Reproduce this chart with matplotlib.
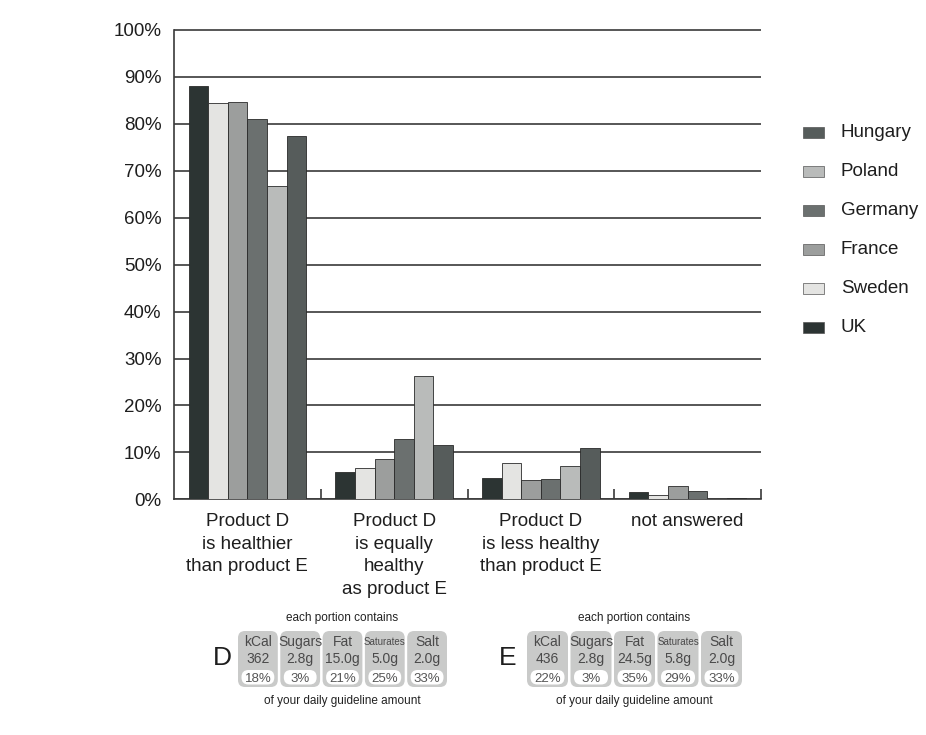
import matplotlib
matplotlib.use("Agg")
import matplotlib.pyplot as plt
from matplotlib.patches import FancyBboxPatch, Rectangle
import numpy as np

plt.rcParams['font.family'] = ['Liberation Sans', 'DejaVu Sans']

# ---------------- data ----------------
categories = ["Product D\nis healthier\nthan product E",
              "Product D\nis equally\nhealthy\nas product E",
              "Product D\nis less healthy\nthan product E",
              "not answered"]

# bar order inside each group (left to right)
bar_order = ["UK", "Sweden", "France", "Germany", "Poland", "Hungary"]
legend_order = ["Hungary", "Poland", "Germany", "France", "Sweden", "UK"]

uk = [88.1, 5.8, 4.6, 1.6]
sweden = [84.4, 6.7, 7.8, 1.0]
france = [84.6, 8.6, 4.2, 2.9]
germany = [81.1, 12.8, 4.4, 1.8]
poland = [66.7, 26.2, 7.2, 0.0]
hungary = [77.4, 11.5, 10.9, 0.3]
series = {"UK": uk, "Sweden": sweden, "France": france,
          "Germany": germany, "Poland": poland, "Hungary": hungary}

colors = {"UK": "#2c3433", "Sweden": "#e4e4e2", "France": "#9c9e9d",
          "Germany": "#6b706f", "Poland": "#b9bbba", "Hungary": "#565c5b"}

yticks = list(range(0, 101, 10))
ytick_labels = [f"{v}%" for v in yticks]

nutr_names = ["kCal", "Sugars", "Fat", "Saturates", "Salt"]
d_values = ["362", "2.8g", "15.0g", "5.0g", "2.0g"]
d_pcts = ["18%", "3%", "21%", "25%", "33%"]
e_values = ["436", "2.8g", "24.5g", "5.8g", "2.0g"]
e_pcts = ["22%", "3%", "35%", "29%", "33%"]

# ---------------- figure ----------------
W, H = 926, 735
fig = plt.figure(figsize=(W / 100, H / 100), dpi=100)
fig.patch.set_facecolor("white")

y0_px, y100_px = 499.3, 30.0
x0_px, x1_px = 174.0, 761.0
ymax = 101.0
h_px = (y0_px - y100_px) * ymax / 100.0
ax = fig.add_axes([x0_px / W, 1 - y0_px / H, (x1_px - x0_px) / W, h_px / H])

n = len(bar_order)
group_w = 0.8
bw = group_w / n
x = np.arange(len(categories))
for i, name in enumerate(bar_order):
    ax.bar(x - group_w / 2 + bw * (i + 0.5), series[name], bw,
           color=colors[name], edgecolor="#2a2a2a", linewidth=0.6, zorder=3)

ax.set_xlim(-0.5, len(categories) - 0.5)
ax.set_ylim(0, ymax)
ax.set_yticks(yticks)
ax.set_yticklabels(ytick_labels, fontsize=13.5, color="#1e1e1e")
ax.set_xticks(x)
ax.set_xticklabels(categories, fontsize=13.5, color="#1e1e1e", linespacing=1.42)
ax.set_xticks(np.arange(len(categories)) + 0.5, minor=True)
ax.tick_params(axis="x", which="major", length=0, pad=10)
ax.tick_params(axis="x", which="minor", direction="in", length=7.5,
               width=1.2, color="#3a3a3a")
ax.tick_params(axis="y", length=0, pad=9)
ax.yaxis.grid(True, color="#3a3a3a", linewidth=1.2, zorder=0)
ax.set_axisbelow(True)
for s in ["top", "right"]:
    ax.spines[s].set_visible(False)
for s in ["left", "bottom"]:
    ax.spines[s].set_color("#3a3a3a")
    ax.spines[s].set_linewidth(1.2)
ax.spines["left"].set_bounds(0, 100)

# ---------------- overlay in pixel coordinates ----------------
ov = fig.add_axes([0, 0, 1, 1])
ov.set_xlim(0, W)
ov.set_ylim(H, 0)
ov.axis("off")
ov.patch.set_visible(False)

# legend
leg_y0, leg_dy = 132, 39
for k, name in enumerate(legend_order):
    yy = leg_y0 + k * leg_dy
    ov.add_patch(Rectangle((803, yy - 5.5), 21, 11, facecolor=colors[name],
                           edgecolor="#555555", linewidth=0.5))
    ov.text(841, yy, name, fontsize=13.5, va="center", ha="left", color="#1e1e1e")


def nutrition_block(letter, letter_x, x_start, x_end, values, pcts):
    n_cells = len(nutr_names)
    gap = 2.5
    cw = (x_end - x_start - gap * (n_cells - 1)) / n_cells
    top, bottom = 631, 687
    cx_mid = (x_start + x_end) / 2
    ov.text(letter_x, 658, letter, fontsize=19, ha="center", va="center",
            color="#1e1e1e")
    ov.text(cx_mid, 618.5, "each portion contains", fontsize=8.5, ha="center",
            va="center", color="#222222")
    ov.text(cx_mid, 701, "of your daily guideline amount", fontsize=8.5,
            ha="center", va="center", color="#222222")
    for j in range(n_cells):
        cx = x_start + j * (cw + gap)
        ov.add_patch(FancyBboxPatch((cx + 3, top + 3), cw - 6, bottom - top - 6,
                                    boxstyle="round,pad=3,rounding_size=7",
                                    facecolor="#c9cac9", edgecolor="none"))
        ov.add_patch(FancyBboxPatch((cx + 5.5, 672), cw - 11, 10.5,
                                    boxstyle="round,pad=2,rounding_size=7",
                                    facecolor="white", edgecolor="none"))
        cc = cx + cw / 2
        fs = 7 if nutr_names[j] == "Saturates" else 10
        ov.text(cc, 642, nutr_names[j], fontsize=fs, ha="center", va="center",
                color="#4a4a4a")
        ov.text(cc, 659, values[j], fontsize=10, ha="center", va="center",
                color="#4a4a4a")
        ov.text(cc, 678.5, pcts[j], fontsize=9.5, ha="center", va="center",
                color="#555555")


nutrition_block("D", 222, 238, 447, d_values, d_pcts)
nutrition_block("E", 508, 527, 742, e_values, e_pcts)

fig.savefig("out.png", dpi=100, facecolor="white")
